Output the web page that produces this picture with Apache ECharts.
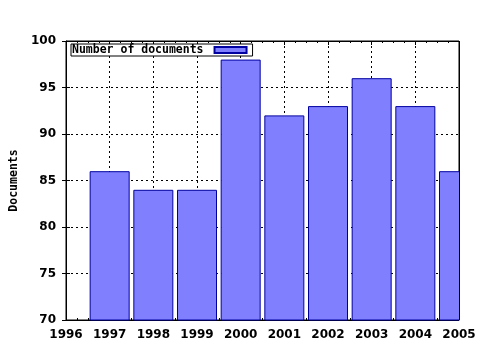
<!DOCTYPE html>
<html>
<head>
<meta charset="utf-8">
<script src="https://cdn.jsdelivr.net/npm/echarts@6/dist/echarts.min.js"></script>
<style>html,body{margin:0;padding:0;background:#fff}#c{width:480px;height:350px}</style>
</head>
<body>
<div id="c"></div>
<script>
const years = [1997, 1998, 1999, 2000, 2001, 2002, 2003, 2004, 2005];
const documents = [86, 84, 84, 98, 92, 93, 96, 93, 86];
const seriesName = 'Number of documents';
const yAxisName = 'Documents';

const G = {left: 65, right: 21, top: 41, bottom: 30};
const W = 480, H = 350;
const chart = echarts.init(document.getElementById('c'), null, {renderer: 'canvas'});
const lbl = {fontFamily: 'DejaVu Sans', fontWeight: 'bold', fontSize: 12, color: '#000'};
const dash = {color: '#000', type: [2, 3], width: 1};
chart.setOption({
  animation: false,
  backgroundColor: '#fff',
  grid: Object.assign({show: true, borderColor: '#000', borderWidth: 1, backgroundColor: 'transparent'}, G),
  legend: {
    left: 71, top: 44, orient: 'horizontal', align: 'right',
    borderColor: '#000', borderWidth: 1, borderRadius: 0, backgroundColor: '#fff',
    padding: [0, 5, 0, 1], itemWidth: 32, itemHeight: 6, itemGap: 0,
    icon: 'rect',
    textStyle: {fontFamily: 'DejaVu Sans Mono', fontWeight: 'bold', fontSize: 11.5, color: '#000', padding: [1, 6, 0, 0]},
    data: [seriesName]
  },
  graphic: [
    {type: 'rect', z: 100, silent: true, shape: {x: W - G.right + 0.5, y: 0, width: G.right, height: H - G.bottom + 2}, style: {fill: '#fff'}},
    {type: 'line', z: 101, silent: true, shape: {x1: W - G.right + 0.5, y1: G.top, x2: W - G.right + 0.5, y2: H - G.bottom}, style: {stroke: '#000', lineWidth: 1}}
  ],
  xAxis: [{
    type: 'value', min: 1996, max: 2005, interval: 1, position: 'bottom',
    axisLine: {show: true, lineStyle: {color: '#000'}},
    axisTick: {show: true, inside: true, length: 4, lineStyle: {color: '#000'}},
    minorTick: {show: true, splitNumber: 4, length: 2, lineStyle: {color: '#000'}},
    axisLabel: Object.assign({margin: 9, formatter: v => String(v)}, lbl),
    splitLine: {show: true, lineStyle: dash}
  }, {
    type: 'value', min: 1996, max: 2005, interval: 1, position: 'top',
    axisLine: {show: true, lineStyle: {color: '#000'}},
    axisTick: {show: true, inside: true, length: 4, lineStyle: {color: '#000'}},
    minorTick: {show: true, splitNumber: 4, length: 2, lineStyle: {color: '#000'}},
    axisLabel: {show: false},
    splitLine: {show: false}
  }],
  yAxis: [{
    type: 'value', min: 70, max: 100, interval: 5, position: 'left',
    name: yAxisName, nameLocation: 'middle', nameGap: 46,
    nameTextStyle: {fontFamily: 'DejaVu Sans Mono', fontWeight: 'bold', fontSize: 11.5, color: '#000'},
    axisLine: {show: true, lineStyle: {color: '#000'}},
    axisTick: {show: true, inside: false, length: 4, lineStyle: {color: '#000'}},
    axisLabel: Object.assign({margin: 10}, lbl),
    splitLine: {show: true, lineStyle: dash}
  }, {
    type: 'value', min: 70, max: 100, interval: 5, position: 'left', offset: 0,
    axisLine: {show: false},
    axisTick: {show: true, inside: true, length: 4, lineStyle: {color: '#000'}},
    axisLabel: {show: false},
    splitLine: {show: false}
  }],
  series: [{
    name: seriesName, type: 'bar', xAxisIndex: 0, yAxisIndex: 0,
    barWidth: 40, clip: true,
    itemStyle: {color: '#8080ff', borderColor: '#0000a0', borderWidth: 1},
    data: years.map((y, i) => [y, documents[i]])
  }]
});
</script>
</body>
</html>
